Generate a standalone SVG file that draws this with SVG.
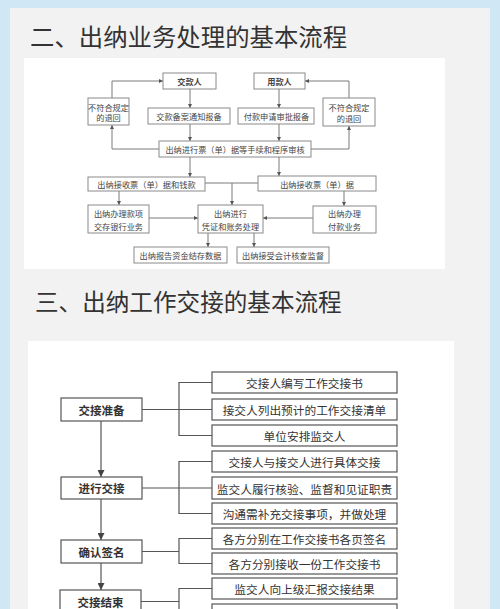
<svg xmlns="http://www.w3.org/2000/svg" width="500" height="609" viewBox="0 0 500 609">
<style>
.title{font-family:"Noto Sans CJK SC","Noto Sans",sans-serif;fill:#333;}
.b1{fill:#fff;stroke:#8a8a8a;stroke-width:1;}
.t1{font-family:"Noto Sans CJK SC",sans-serif;font-size:8.2px;fill:#444;text-anchor:middle;dominant-baseline:central;}
.t1b{font-weight:bold;}
.l1{fill:none;stroke:#7a7a7a;stroke-width:1;}
.b2{fill:#fff;stroke:#555;stroke-width:1.2;}
.t2{font-family:"Noto Sans CJK SC",sans-serif;font-size:11.7px;fill:#333;text-anchor:middle;dominant-baseline:central;}
.t2b{font-weight:bold;font-size:11.5px;}
.l2{fill:none;stroke:#555;stroke-width:1.2;}
</style>
<defs>
<marker id="a1" viewBox="0 0 6 6" refX="6" refY="3" markerWidth="4" markerHeight="4" orient="auto" markerUnits="userSpaceOnUse"><path d="M0,0 L6,3 L0,6 z" fill="#555"/></marker>
<marker id="a2" viewBox="0 0 6 6" refX="6" refY="3" markerWidth="7" markerHeight="7" orient="auto" markerUnits="userSpaceOnUse"><path d="M0,0 L6,3 L0,6 z" fill="#444"/></marker>
</defs>
<rect x="0" y="0" width="500" height="609" fill="#d0e7f6"/>
<rect x="10" y="8" width="480" height="610" fill="#f2f2f2"/>
<text class="title" x="30" y="45.5" font-size="24.4">二、出纳业务处理的基本流程</text>
<rect x="24" y="58" width="421" height="211" fill="#fff"/>
<text class="title" x="35" y="311" font-size="23.6">三、出纳工作交接的基本流程</text>
<rect x="28" y="341" width="426" height="280" fill="#fff"/>

<g id="connectors1">
<path class="l1" d="M190,89 V108" marker-end="url(#a1)"/>
<path class="l1" d="M190,124 V141" marker-end="url(#a1)"/>
<path class="l1" d="M279,89 V108" marker-end="url(#a1)"/>
<path class="l1" d="M279,124 V141" marker-end="url(#a1)"/>
<path class="l1" d="M159,149 H112 V125" marker-end="url(#a1)"/>
<path class="l1" d="M112,98 V81 H163" marker-end="url(#a1)"/>
<path class="l1" d="M311,149 H349 V126" marker-end="url(#a1)"/>
<path class="l1" d="M349,98 V81 H305" marker-end="url(#a1)"/>
<path class="l1" d="M190,157 V177" marker-end="url(#a1)"/>
<path class="l1" d="M279,157 V176" marker-end="url(#a1)"/>
<path class="l1" d="M205,183 H258"/>
<path class="l1" d="M232,183 V205" marker-end="url(#a1)"/>
<path class="l1" d="M119,191 V205" marker-end="url(#a1)"/>
<path class="l1" d="M149,218 H198" marker-end="url(#a1)"/>
<path class="l1" d="M313,218 H263" marker-end="url(#a1)"/>
<path class="l1" d="M344,191 V206" marker-end="url(#a1)"/>
<path class="l1" d="M208,233 V247" marker-end="url(#a1)"/>
<path class="l1" d="M254,233 V247" marker-end="url(#a1)"/>
</g>

<g id="n-jiaokuanren"><rect class="b1" x="163" y="73" width="53" height="16"/><text class="t1 t1b" x="189.5" y="81">交款人</text></g>
<g id="n-yongkuanren"><rect class="b1" x="254" y="73" width="51" height="16"/><text class="t1 t1b" x="279.5" y="81">用款人</text></g>
<g id="n-return-left"><rect class="b1" x="88" y="98" width="41" height="27"/><text class="t1" x="108.5" y="106.5">不符合规定</text><text class="t1" x="108.5" y="117">的退回</text></g>
<g id="n-return-right"><rect class="b1" x="323" y="98" width="52" height="28"/><text class="t1" x="349" y="106.5">不符合规定</text><text class="t1" x="349" y="117.5">的退回</text></g>
<g id="n-beian"><rect class="b1" x="148" y="108" width="82" height="16"/><text class="t1" x="189" y="116">交款备案通知报备</text></g>
<g id="n-shenpi"><rect class="b1" x="238" y="108" width="76" height="16"/><text class="t1" x="276.5" y="116">付款申请审批报备</text></g>
<g id="n-shenhe"><rect class="b1" x="159" y="141" width="152" height="16"/><text class="t1" x="235" y="149">出纳进行票（单）据等手续和程序审核</text></g>
<g id="n-jieshou-qian"><rect class="b1" x="88" y="177" width="117" height="14"/><text class="t1" x="146.5" y="184">出纳接收票（单）据和钱款</text></g>
<g id="n-jieshou"><rect class="b1" x="258" y="176" width="118" height="15"/><text class="t1" x="317" y="183.5">出纳接收票（单）据</text></g>
<g id="n-jiaocun"><rect class="b1" x="88" y="205" width="61" height="28"/><text class="t1" x="118.5" y="213.3">出纳办理款项</text><text class="t1" x="118.5" y="225.5">交存银行业务</text></g>
<g id="n-zhangwu"><rect class="b1" x="198" y="205" width="65" height="28"/><text class="t1" x="230.5" y="213.3">出纳进行</text><text class="t1" x="230.5" y="225.5">凭证和账务处理</text></g>
<g id="n-fukuan"><rect class="b1" x="313" y="206" width="63" height="27"/><text class="t1" x="344.5" y="213.3">出纳办理</text><text class="t1" x="344.5" y="225.5">付款业务</text></g>
<g id="n-baogao"><rect class="b1" x="134" y="247" width="93" height="16"/><text class="t1" x="180.5" y="255">出纳报告资金结存数据</text></g>
<g id="n-jiandu"><rect class="b1" x="237" y="247" width="92" height="16"/><text class="t1" x="283" y="255">出纳接受会计核查监督</text></g>

<g id="connectors2">
<path class="l2" d="M101,421 V477" marker-end="url(#a2)"/>
<path class="l2" d="M101,499 V540" marker-end="url(#a2)"/>
<path class="l2" d="M101,563 V590" marker-end="url(#a2)"/>
<path class="l2" d="M142,409.5 H212 M212,382.5 H179 V435.5 H212"/>
<path class="l2" d="M142,488 H212 M212,461.5 H179 V513.5 H212"/>
<path class="l2" d="M142,551.5 H179 M212,538.5 H179 V563.5 H212"/>
<path class="l2" d="M141,601.5 H179 M212,588.5 H179 V614.5 H212"/>
</g>

<g id="s-zhunbei"><rect class="b2" x="61" y="398" width="81" height="23"/><text class="t2 t2b" x="101.5" y="409.5">交接准备</text></g>
<g id="s-jinxing"><rect class="b2" x="61" y="477" width="81" height="22"/><text class="t2 t2b" x="101.5" y="488">进行交接</text></g>
<g id="s-queren"><rect class="b2" x="61" y="540" width="81" height="23"/><text class="t2 t2b" x="101.5" y="551.5">确认签名</text></g>
<g id="s-jieshu"><rect class="b2" x="60" y="590" width="81" height="24"/><text class="t2 t2b" x="100.5" y="602">交接结束</text></g>

<g id="r1"><rect class="b2" x="212" y="372" width="185" height="21"/><text class="t2" x="304.5" y="382.5">交接人编写工作交接书</text></g>
<g id="r2"><rect class="b2" x="212" y="399" width="185" height="21"/><text class="t2" x="304.5" y="409.5">接交人列出预计的工作交接清单</text></g>
<g id="r3"><rect class="b2" x="212" y="425" width="185" height="21"/><text class="t2" x="304.5" y="435.5">单位安排监交人</text></g>
<g id="r4"><rect class="b2" x="212" y="451" width="185" height="21"/><text class="t2" x="304.5" y="461.5">交接人与接交人进行具体交接</text></g>
<g id="r5"><rect class="b2" x="212" y="477" width="185" height="22"/><text class="t2" x="304.5" y="488">监交人履行核验、监督和见证职责</text></g>
<g id="r6"><rect class="b2" x="212" y="503" width="185" height="21"/><text class="t2" x="304.5" y="513.5">沟通需补充交接事项，并做处理</text></g>
<g id="r7"><rect class="b2" x="212" y="528" width="185" height="21"/><text class="t2" x="304.5" y="538.5">各方分别在工作交接书各页签名</text></g>
<g id="r8"><rect class="b2" x="212" y="553" width="185" height="21"/><text class="t2" x="304.5" y="563.5">各方分别接收一份工作交接书</text></g>
<g id="r9"><rect class="b2" x="212" y="578" width="185" height="21"/><text class="t2" x="304.5" y="588.5">监交人向上级汇报交接结果</text></g>
<g id="r10"><rect class="b2" x="212" y="604" width="185" height="21"/></g>
</svg>
